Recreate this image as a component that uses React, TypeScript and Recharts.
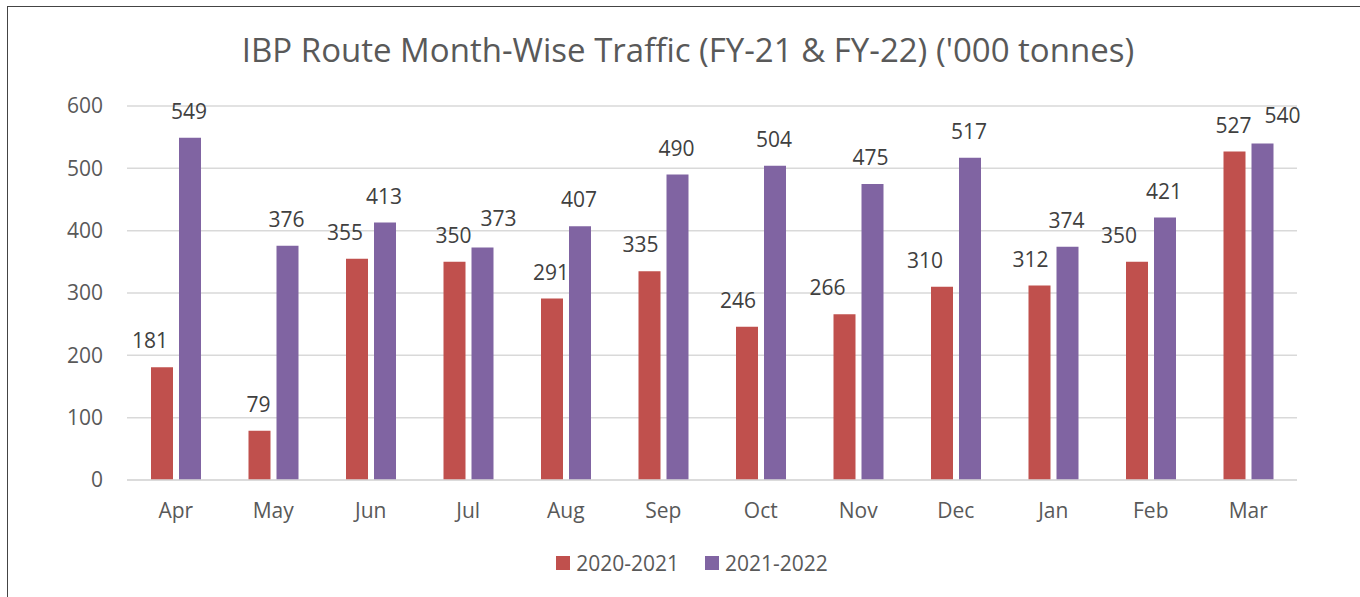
import React from "react";
import { BarChart, Bar, XAxis, YAxis, CartesianGrid, Legend, LabelList } from "recharts";

const months = ["Apr", "May", "Jun", "Jul", "Aug", "Sep", "Oct", "Nov", "Dec", "Jan", "Feb", "Mar"];
const fy21 = [181, 79, 355, 350, 291, 335, 246, 266, 310, 312, 350, 527];
const fy22 = [549, 376, 413, 373, 407, 490, 504, 475, 517, 374, 421, 540];
const yTicks = [0, 100, 200, 300, 400, 500, 600];
const seriesNames = ["2020-2021", "2021-2022"];
const title = "IBP Route Month-Wise Traffic (FY-21 & FY-22) ('000 tonnes)";

// horizontal / vertical nudges of the data labels (layout only, as placed in the reference)
const labelDxA = [-12, -1, -12, -1, -1, -9, -9, -17, -17, -9, -18, -1];
const labelDxB = [-1, -1, -1, 16, -1, -1, -1, -2, -1, -1, -1, 20];
const labelDyB = [0, 0, 0, -2, 0, 0, 0, 0, 0, 0, 0, -1];

const data = months.map((m, i) => ({ month: m, a: fy21[i], b: fy22[i] }));

const FONT = "'Open Sans', sans-serif";
const RED = "#C0504D";
const PURPLE = "#8064A2";

const LegendContent = (props: any) => {
  const { payload } = props;
  return (
    <div style={{ display: "flex", justifyContent: "center", alignItems: "center", height: 30, paddingLeft: 20, fontFamily: FONT, fontSize: 21, color: "#595959" }}>
      {payload.map((p: any, i: number) => (
        <div key={i} style={{ display: "flex", alignItems: "center", marginLeft: i === 0 ? 0 : 26 }}>
          <div style={{ width: 14, height: 14, background: p.color, marginRight: 6 }} />
          <span>{p.value}</span>
        </div>
      ))}
    </div>
  );
};

const makeLabel = (dxs: number[], dys: number[] | null) => (props: any) => {
  const { x, y, width, value, index } = props;
  const dx = dxs[index] ?? 0;
  const dy = dys ? dys[index] ?? 0 : 0;
  return (
    <text x={Number(x) + Number(width) / 2 + dx} y={Number(y) - 19 + dy} textAnchor="middle" fill="#404040" fontSize={21} fontFamily={FONT}>
      {value}
    </text>
  );
};

export default function App() {
  return (
    <div style={{ position: "absolute", left: 0, top: 0, width: 1360, height: 597, overflow: "hidden", background: "#fff" }}>
      <div style={{ position: "absolute", left: 7, top: 6, width: 1400, height: 700, border: "1px solid #444", boxSizing: "border-box" }} />
      <div style={{ position: "absolute", left: 0, width: 1376, top: 32.7, textAlign: "center", fontFamily: FONT, fontSize: 33, lineHeight: 1, color: "#595959", whiteSpace: "nowrap" }}>
        {title}
      </div>
      <div style={{ position: "absolute", left: 0, top: 0 }}>
        <BarChart width={1360} height={597} data={data} margin={{ top: 106, right: 63, left: 67, bottom: 19 }} barGap={6} barSize={22}>
          <CartesianGrid vertical={false} stroke="#D9D9D9" strokeWidth={1.5} />
          <XAxis dataKey="month" height={68} tickLine={false} axisLine={{ stroke: "#D9D9D9", strokeWidth: 1.5 }} tickSize={0} tickMargin={23} tick={{ fill: "#595959", fontSize: 21, fontFamily: FONT }} />
          <YAxis width={60} domain={[0, 600]} ticks={yTicks} tickLine={false} axisLine={false} tickSize={0} tickMargin={24} tick={{ fill: "#595959", fontSize: 21, fontFamily: FONT }} />
          <Legend verticalAlign="bottom" content={<LegendContent />} />
          <Bar dataKey="a" name={seriesNames[0]} fill={RED} isAnimationActive={false}>
            <LabelList dataKey="a" content={makeLabel(labelDxA, null)} />
          </Bar>
          <Bar dataKey="b" name={seriesNames[1]} fill={PURPLE} isAnimationActive={false}>
            <LabelList dataKey="b" content={makeLabel(labelDxB, labelDyB)} />
          </Bar>
        </BarChart>
      </div>
    </div>
  );
}
